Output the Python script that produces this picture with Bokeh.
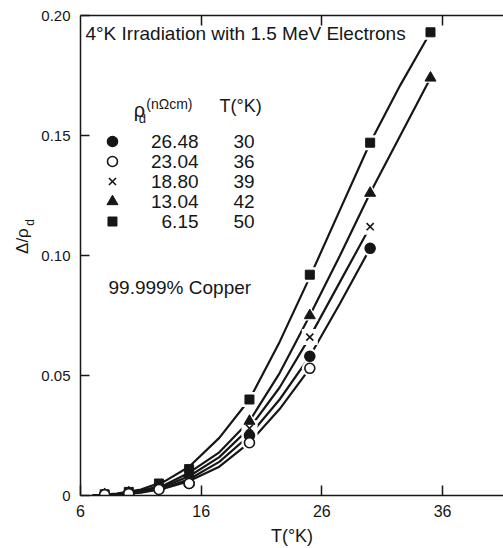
import math
from bokeh.plotting import figure
from bokeh.models import LinearAxis, FixedTicker, Label, ColumnDataSource
from bokeh.embed import file_html
from bokeh.resources import INLINE
from bokeh.core.properties import value

FONT = "Liberation Sans"
INK = "#161616"

# ---- measured points: T (K) vs delta/rho_d ----
T_sq = [8, 10, 12.5, 15, 20, 25, 30, 35]
D_sq = [0.0005, 0.0015, 0.005, 0.011, 0.040, 0.092, 0.147, 0.193]
T_tri = [8, 10, 12.5, 15, 20, 25, 30, 35]
D_tri = [0.0005, 0.0012, 0.004, 0.009, 0.031, 0.075, 0.126, 0.174]
T_x = [8, 10, 12.5, 15, 20, 25, 30]
D_x = [0.0004, 0.001, 0.0035, 0.008, 0.028, 0.066, 0.112]
T_fc = [8, 10, 12.5, 15, 20, 25, 30]
D_fc = [0.0003, 0.001, 0.003, 0.005, 0.025, 0.058, 0.103]
T_oc = [8, 10, 12.5, 15, 20, 25]
D_oc = [0.0003, 0.0008, 0.0025, 0.005, 0.022, 0.053]

# ---- fitted curves ----
CT_long = [7, 9, 11, 13, 15, 17.5, 20, 22.5, 25, 27.5, 30, 32.5, 35]
C_sq = [0.0, 0.0008, 0.0025, 0.006, 0.012, 0.024, 0.040, 0.064, 0.091, 0.119, 0.147, 0.171, 0.193]
C_tri = [0.0, 0.0006, 0.002, 0.0045, 0.0095, 0.018, 0.031, 0.051, 0.075, 0.100, 0.126, 0.150, 0.174]
CT_mid = [7, 9, 11, 13, 15, 17.5, 20, 22.5, 25, 27.5, 30]
C_x = [0.0, 0.0005, 0.0017, 0.004, 0.008, 0.016, 0.028, 0.045, 0.066, 0.089, 0.112]
C_fc = [0.0, 0.0004, 0.0014, 0.0033, 0.0068, 0.014, 0.025, 0.040, 0.058, 0.080, 0.103]
CT_short = [7, 9, 11, 13, 15, 17.5, 20, 22.5, 25]
C_oc = [0.0, 0.0003, 0.0012, 0.003, 0.006, 0.012, 0.022, 0.036, 0.053]

# ---- legend table ----
legend_rho = ["26.48", "23.04", "18.80", "13.04", "6.15"]
legend_T = ["30", "36", "39", "42", "50"]

# ---- ticks ----
x_ticks = [6, 16, 26, 36]
top_ticks = [16, 26, 36]
y_ticks = [0, 0.05, 0.10, 0.15, 0.20]
y_tick_labels = ["0", "0.05", "0.10", "0.15", "0.20"]

p = figure(frame_width=423, frame_height=480, x_range=(6, 41.05), y_range=(0, 0.2),
           output_backend="svg", toolbar_location=None,
           min_border_left=80, min_border_right=0, min_border_top=15, min_border_bottom=10)
p.outline_line_color = None
p.xgrid.visible = False
p.ygrid.visible = False
p.background_fill_color = "white"
p.border_fill_color = "white"

xa = p.xaxis[0]
xa.ticker = FixedTicker(ticks=x_ticks)
xa.major_tick_in = 10
xa.major_tick_out = 0
xa.minor_tick_line_color = None
xa.axis_line_width = 1.5
xa.axis_line_color = INK
xa.major_tick_line_color = INK
xa.major_tick_line_width = 1.5
xa.major_label_text_font = FONT
xa.major_label_text_font_size = "16px"
xa.major_label_text_color = INK
xa.major_label_standoff = 9
xa.axis_label = "T(°K)"
xa.axis_label_text_font = FONT
xa.axis_label_text_font_style = "normal"
xa.axis_label_text_font_size = "18px"
xa.axis_label_text_color = INK
xa.axis_label_standoff = 6

ya = p.yaxis[0]
ya.ticker = FixedTicker(ticks=y_ticks)
ya.major_label_overrides = {t: s for t, s in zip(y_ticks, y_tick_labels)}
ya.major_tick_in = 9
ya.major_tick_out = 0
ya.minor_tick_line_color = None
ya.axis_line_width = 1.5
ya.axis_line_color = INK
ya.major_tick_line_color = INK
ya.major_tick_line_width = 1.5
ya.major_label_text_font = FONT
ya.major_label_text_font_size = "15px"
ya.major_label_text_color = INK
ya.major_label_standoff = 10

top = LinearAxis(ticker=FixedTicker(ticks=top_ticks), major_tick_in=10, major_tick_out=0,
                 minor_tick_line_color=None, axis_line_width=1.5, axis_line_color=INK,
                 major_tick_line_color=INK, major_tick_line_width=1.5,
                 major_label_text_color=None, major_label_text_font_size="10px",
                 major_label_standoff=0)
p.add_layout(top, "above")

# curves
for cx, cy in [(CT_long, C_sq), (CT_long, C_tri), (CT_mid, C_x), (CT_mid, C_fc), (CT_short, C_oc)]:
    p.line(cx, cy, line_color=INK, line_width=2.2)

series = [
    (T_sq, D_sq, "square", 9, INK),
    (T_tri, D_tri, "triangle", 11, INK),
    (T_x, D_x, "x", 10, None),
    (T_fc, D_fc, "circle", 10, INK),
    (T_oc, D_oc, "circle", 10, "white"),
]

# white halos (gaps of the curves around the upper markers)
for tx, dy, mk, sz, fc in series:
    hx = [t for t in tx if t >= 20]
    hy = [d for t, d in zip(tx, dy) if t >= 20]
    p.scatter(hx, hy, marker=mk if mk != "x" else "square", size=sz + 6,
              fill_color="white", line_color=None)

for tx, dy, mk, sz, fc in series:
    p.scatter(tx, dy, marker=mk, size=sz, fill_color=fc, line_color=INK,
              line_width=1.6 if mk in ("x", "circle") else 1)

# ---- legend block (layout constants) ----
KEY_X = 8.65
ROW0_Y = 0.1475
ROW_STEP = 20 / 2400.0
RHO_X = 15.78
TCOL_X = 18.68
rows_y = [ROW0_Y - i * ROW_STEP for i in range(len(legend_rho))]
key_styles = [("circle", 10, INK), ("circle", 10, "white"), ("x", 10, None),
              ("triangle", 11, INK), ("square", 9, INK)]
for (mk, sz, fc), yy in zip(key_styles, rows_y):
    p.scatter([KEY_X], [yy], marker=mk, size=sz, fill_color=fc, line_color=INK,
              line_width=1.6 if mk in ("x", "circle") else 1)

src = ColumnDataSource(dict(y=rows_y, rho=legend_rho, t=legend_T,
                            xr=[RHO_X] * len(rows_y), xt=[TCOL_X] * len(rows_y)))
p.text(x="xr", y="y", text="rho", source=src, text_align="right", text_baseline="middle",
       text_font=value(FONT), text_font_size="19px", text_color=INK)
p.text(x="xt", y="y", text="t", source=src, text_align="left", text_baseline="middle",
       text_font=value(FONT), text_font_size="19px", text_color=INK)


def lab(x, y, text, size, align="left", angle=0.0, baseline="middle", place=None):
    lbl = Label(x=x, y=y, text=text, text_font=FONT, text_font_size=size,
                text_color=INK, text_align=align, text_baseline=baseline,
                angle=angle)
    if place:
        p.add_layout(lbl, place)
    else:
        p.add_layout(lbl)


lab(6.41, 0.1925, "4°K Irradiation with 1.5 MeV Electrons", "19px")
lab(10.89, 0.1605, "ρ", "20px", align="center")
lab(11.12, 0.1572, "d", "13px", align="center")
lab(11.45, 0.1630, "(nΩcm)", "14px")
lab(17.52, 0.1625, "T(°K)", "18px")
lab(8.32, 0.0867, "99.999% Copper", "19px")

# y-axis label  Δ/ρ_d  (rotated), placed in the left side panel
lab(1.2, 0.1060, "Δ/ρ", "17px", align="center", angle=math.pi / 2, place="left")
lab(1.80, 0.1138, "d", "12px", align="center", angle=math.pi / 2, place="left")

open("out.html", "w").write(file_html(p, INLINE))
